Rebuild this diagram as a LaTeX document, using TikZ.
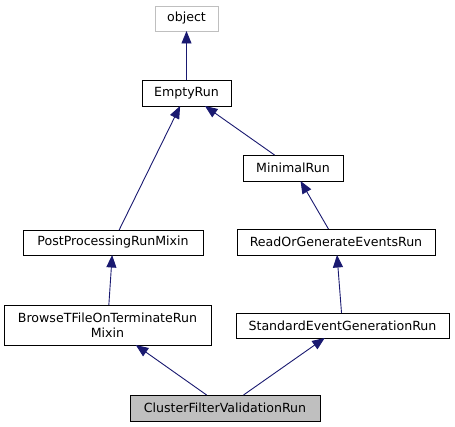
\documentclass[tikz,border=0pt]{standalone}
\usepackage{fontspec}
\setmainfont{DejaVu Sans}
\usetikzlibrary{arrows.meta}
\definecolor{edgeblue}{HTML}{191970}
\definecolor{greyline}{HTML}{BFBFBF}
\definecolor{greyfill}{HTML}{BFBFBF}
\tikzset{
  cls/.style={draw=black, line width=0.9pt, rectangle, inner sep=0pt, outer sep=0pt, align=center,
    font=\fontsize{12.6}{15}\selectfont},
  arr/.style={draw=edgeblue, line width=0.9pt, -{Triangle[length=12.5pt,width=10pt,fill=edgeblue]}},
}
\begin{document}
\begin{tikzpicture}[x=1pt,y=-1pt]
\useasboundingbox (0,0) rectangle (455,427);
\node[cls, draw=greyline, minimum width=63pt, minimum height=25pt] (obj) at (186.5,18.5) {object};
\node[cls, minimum width=89pt, minimum height=26pt] (er) at (186.5,93) {EmptyRun};
\node[cls, minimum width=100pt, minimum height=26pt] (mr) at (293,168) {MinimalRun};
\node[cls, minimum width=180pt, minimum height=25pt] (pp) at (113,242.5) {PostProcessingRunMixin};
\node[cls, minimum width=198pt, minimum height=26pt] (rog) at (336,242) {ReadOrGenerateEventsRun};
\node[cls, minimum width=207pt, minimum height=40pt] (bt) at (107.5,325) {BrowseTFileOnTerminateRun\\Mixin};
\node[cls, minimum width=213pt, minimum height=25pt] (seg) at (342.5,325.5) {StandardEventGenerationRun};
\node[cls, fill=greyfill, minimum width=190pt, minimum height=26pt] (cfv) at (225,408) {ClusterFilterValidationRun};
\draw[arr] (er) -- (obj);
\draw[arr] (pp) -- (er);
\draw[arr] (mr) -- (er);
\draw[arr] (rog) -- (mr);
\draw[arr] (bt) -- (pp);
\draw[arr] (seg) -- (rog);
\draw[arr] (cfv) -- (bt);
\draw[arr] (cfv) -- (seg);
\end{tikzpicture}
\end{document}
